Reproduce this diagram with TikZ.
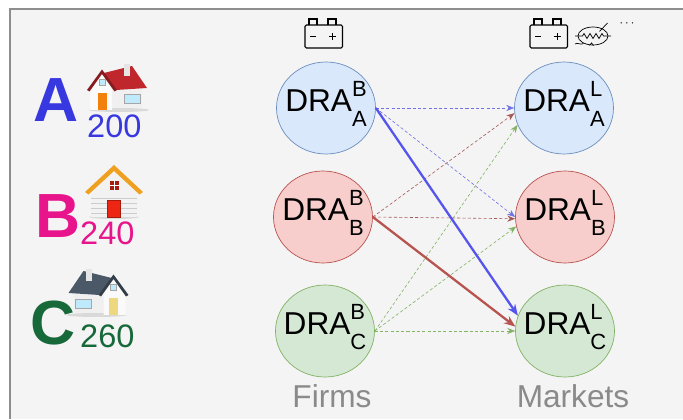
\documentclass[tikz,border=0pt]{standalone}
\usepackage{fontspec}
\setmainfont{Liberation Sans}
\usetikzlibrary{shapes.geometric,arrows.meta,positioning}

\definecolor{panelGray}{HTML}{F4F4F4}
\definecolor{frameGray}{HTML}{8E8E8E}
\definecolor{labelGray}{HTML}{8A8A8A}
\definecolor{fillBlue}{HTML}{DAE8FC}
\definecolor{lineBlue}{HTML}{6C8EBF}
\definecolor{fillRed}{HTML}{F8CECC}
\definecolor{lineRed}{HTML}{B85450}
\definecolor{fillGreen}{HTML}{D5E8D4}
\definecolor{lineGreen}{HTML}{82B366}
\definecolor{arrowBlue}{HTML}{5555EE}
\definecolor{dashBlue}{HTML}{7272E6}
\definecolor{dashRed}{HTML}{A65A58}
\definecolor{letterA}{HTML}{3838E0}
\definecolor{letterB}{HTML}{E8148C}
\definecolor{letterC}{HTML}{17693A}
\definecolor{roofRed}{HTML}{C0272D}
\definecolor{roofOrange}{HTML}{F0A020}
\definecolor{roofSlate}{HTML}{4A5868}

% DRA with stacked super- and subscript, kept out of the node size
\newcommand{\dra}[2]{\makebox[0pt]{\raisebox{-4.5pt}[0pt][0pt]{DRA\rlap{\raisebox{0.5em}{\fontsize{25}{25}\selectfont #1}}\raisebox{-0.45em}{\fontsize{25}{25}\selectfont #2}}}}

% battery icon, lower left corner at #1
\newcommand{\battery}[1]{%
  \begin{scope}[shift={#1}, line width=1.2pt]
    \draw[rounded corners=1.5pt] (0,0) rectangle (1.5,0.92);
    \draw (0.16,0.92) -- (0.16,1.16) -- (0.48,1.16) -- (0.48,0.92);
    \draw (0.92,0.92) -- (0.92,1.16) -- (1.24,1.16) -- (1.24,0.92);
    \draw[line width=1.6pt] (0.2,0.46) -- (0.44,0.46);
    \draw[line width=1.6pt] (0.96,0.46) -- (1.24,0.46) (1.1,0.32) -- (1.1,0.6);
  \end{scope}}

% house seen from the side: position, xscale, roof, door
\newcommand{\sidehouse}[4]{%
  \begin{scope}[shift={#1}, xscale=#2]
    \fill[black!15] (0.2,-0.84) ellipse (1.2 and 0.08);
    \fill[white!88!gray] (-0.08,0.04) rectangle (1.12,-0.78);
    \fill[white!96!gray] (-0.96,-0.84) -- (-0.96,-0.04) -- (-0.48,0.62) -- (-0.08,-0.04) -- (-0.08,-0.84) -- cycle;
    \fill[#3] (-0.48,0.62) -- (0.72,0.92) -- (1.32,0.04) -- (0.08,-0.04) -- cycle;
    \fill[#3!70!black] (-1.08,-0.04) -- (-0.48,0.78) -- (0.12,-0.04) -- (0.02,-0.1) -- (-0.48,0.6) -- (-0.98,-0.1) -- cycle;
    \fill[white!80!gray] (0.4,0.98) rectangle (0.62,0.5);
    \fill[#4] (-0.66,-0.16) rectangle (-0.3,-0.84);
    \fill[cyan!25, draw=gray!70] (-0.6,0.16) rectangle (-0.36,0.4);
    \fill[cyan!25, draw=gray!70] (0.4,-0.2) rectangle (1.06,-0.58);
  \end{scope}}

% house seen from the front: position, roof, door
\newcommand{\fronthouse}[3]{%
  \begin{scope}[shift={#1}]
    \fill[black!15] (0,-1.04) ellipse (1.0 and 0.08);
    \fill[white!90!gray] (-0.92,-1.04) -- (-0.92,-0.04) -- (0,0.86) -- (0.92,-0.04) -- (0.92,-1.04) -- cycle;
    \foreach \yy in {-0.9,-0.7,-0.5,-0.3}
      \draw[gray!40, line width=0.3pt] (-0.92,\yy) -- (0.92,\yy);
    \fill[#2] (-1.16,-0.04) -- (0,1.04) -- (1.16,-0.04) -- (1.02,-0.14) -- (0,0.8) -- (-1.02,-0.14) -- cycle;
    \fill[#3, draw=#3!70!black] (-0.26,-0.36) rectangle (0.26,-1.04);
    \fill[#3!70!black] (-0.18,0.04) rectangle (0.18,0.4);
    \draw[white, line width=0.6pt] (0,0.04) -- (0,0.4) (-0.18,0.22) -- (0.18,0.22);
  \end{scope}}

\begin{document}
\begin{tikzpicture}[
    dra/.style={ellipse, draw, minimum width=3.96cm, minimum height=3.68cm, inner sep=0pt, line width=0.8pt, font=\fontsize{36}{40}\selectfont},
    link/.style={-{Stealth[length=9pt,width=7pt]}, line width=0.7pt, dash pattern=on 3.5pt off 2.5pt},
    strong/.style={-{Stealth[length=13pt,width=10pt]}, line width=2.6pt},
    letter/.style={anchor=base west, inner sep=0pt, font=\fontsize{71}{71}\selectfont\bfseries},
    price/.style={anchor=base west, inner sep=0pt, font=\fontsize{37}{37}\selectfont},
    column/.style={anchor=base, inner sep=0pt, text=labelGray, font=\fontsize{36}{40}\selectfont},
]

\useasboundingbox (0,0) rectangle (27.32,16.76);
\fill[white] (0,0) rectangle (27.32,16.76);

% panel and frame
\fill[panelGray] (0.4,0) rectangle (27.32,16.4);
\draw[frameGray, line width=2.2pt] (0.4,0) -- (0.4,16.4) -- (27.32,16.4);

% houses and prices
\node[letter, text=letterA] (hA) at (1.32,11.88) {A};
\node[price, text=letterA] (pA) at (3.48,11.24) {200};
\sidehouse{(4.56,13.2)}{1}{roofRed}{orange!80!brown}

\node[letter, text=letterB] (hB) at (1.4,7.24) {B};
\node[price, text=letterB] (pB) at (3.2,6.96) {240};
\fronthouse{(4.56,9.12)}{roofOrange}{red!70!brown}

\node[letter, text=letterC] (hC) at (1.2,2.96) {C};
\node[price, text=letterC] (pC) at (3.2,2.84) {260};
\sidehouse{(4.06,5.0)}{-1}{roofSlate}{yellow!50!brown!60}

% firms
\node[dra, fill=fillBlue, draw=lineBlue] (fA) at (13.04,12.44) {\dra{B}{A}};
\node[dra, fill=fillRed, draw=lineRed] (fB) at (12.92,8.08) {\dra{B}{B}};
\node[dra, fill=fillGreen, draw=lineGreen] (fC) at (13.0,3.52) {\dra{B}{C}};

% markets
\node[dra, fill=fillBlue, draw=lineBlue] (mA) at (22.56,12.44) {\dra{L}{A}};
\node[dra, fill=fillRed, draw=lineRed] (mB) at (22.6,8.08) {\dra{L}{B}};
\node[dra, fill=fillGreen, draw=lineGreen] (mC) at (22.6,3.52) {\dra{L}{C}};

\node[column] (firms) at (13.28,0.48) {Firms};
\node[column] (markets) at (22.92,0.48) {Markets};

% storage and load icons
\battery{(12.2,14.84)}
\battery{(21.2,14.84)}
\draw[line width=0.8pt] (23.72,15.32) ellipse (0.6 and 0.36);
\draw[line width=0.8pt] (23.0,15.32) -- (23.3,15.32) -- (23.36,15.42) -- (23.48,15.22) -- (23.6,15.42) -- (23.72,15.22) -- (23.84,15.42) -- (23.96,15.22) -- (24.08,15.42) -- (24.14,15.32) -- (24.44,15.32);
\draw[line width=0.8pt] (23.98,15.5) -- (24.3,15.84);
\draw[line width=0.8pt] (23.0,15.0) .. controls (23.12,15.08) and (23.2,14.94) .. (23.34,15.02);
\draw[line width=0.8pt] (23.58,14.94) -- (23.66,15.04) -- (23.74,14.94);
\node[font=\fontsize{14}{14}\selectfont] (more) at (25.08,15.8) {$\cdots$};

% flows from firms to markets
\draw[link, dashBlue] (fA.east) -- (mA.west);
\draw[link, dashBlue] (fA.east) -- (mB.west);
\draw[link, dashRed] (fB.east) -- (mA.186);
\draw[link, dashRed] (fB.east) -- (mB.182);
\draw[link, lineGreen] (fC.east) -- (mA.200);
\draw[link, lineGreen] (fC.east) -- (mB.191);
\draw[link, lineGreen] (fC.east) -- (mC.west);
\draw[strong, arrowBlue] (fA.east) -- (mC.162);
\draw[strong, lineRed] (fB.east) -- (mC.175);

\end{tikzpicture}
\end{document}
